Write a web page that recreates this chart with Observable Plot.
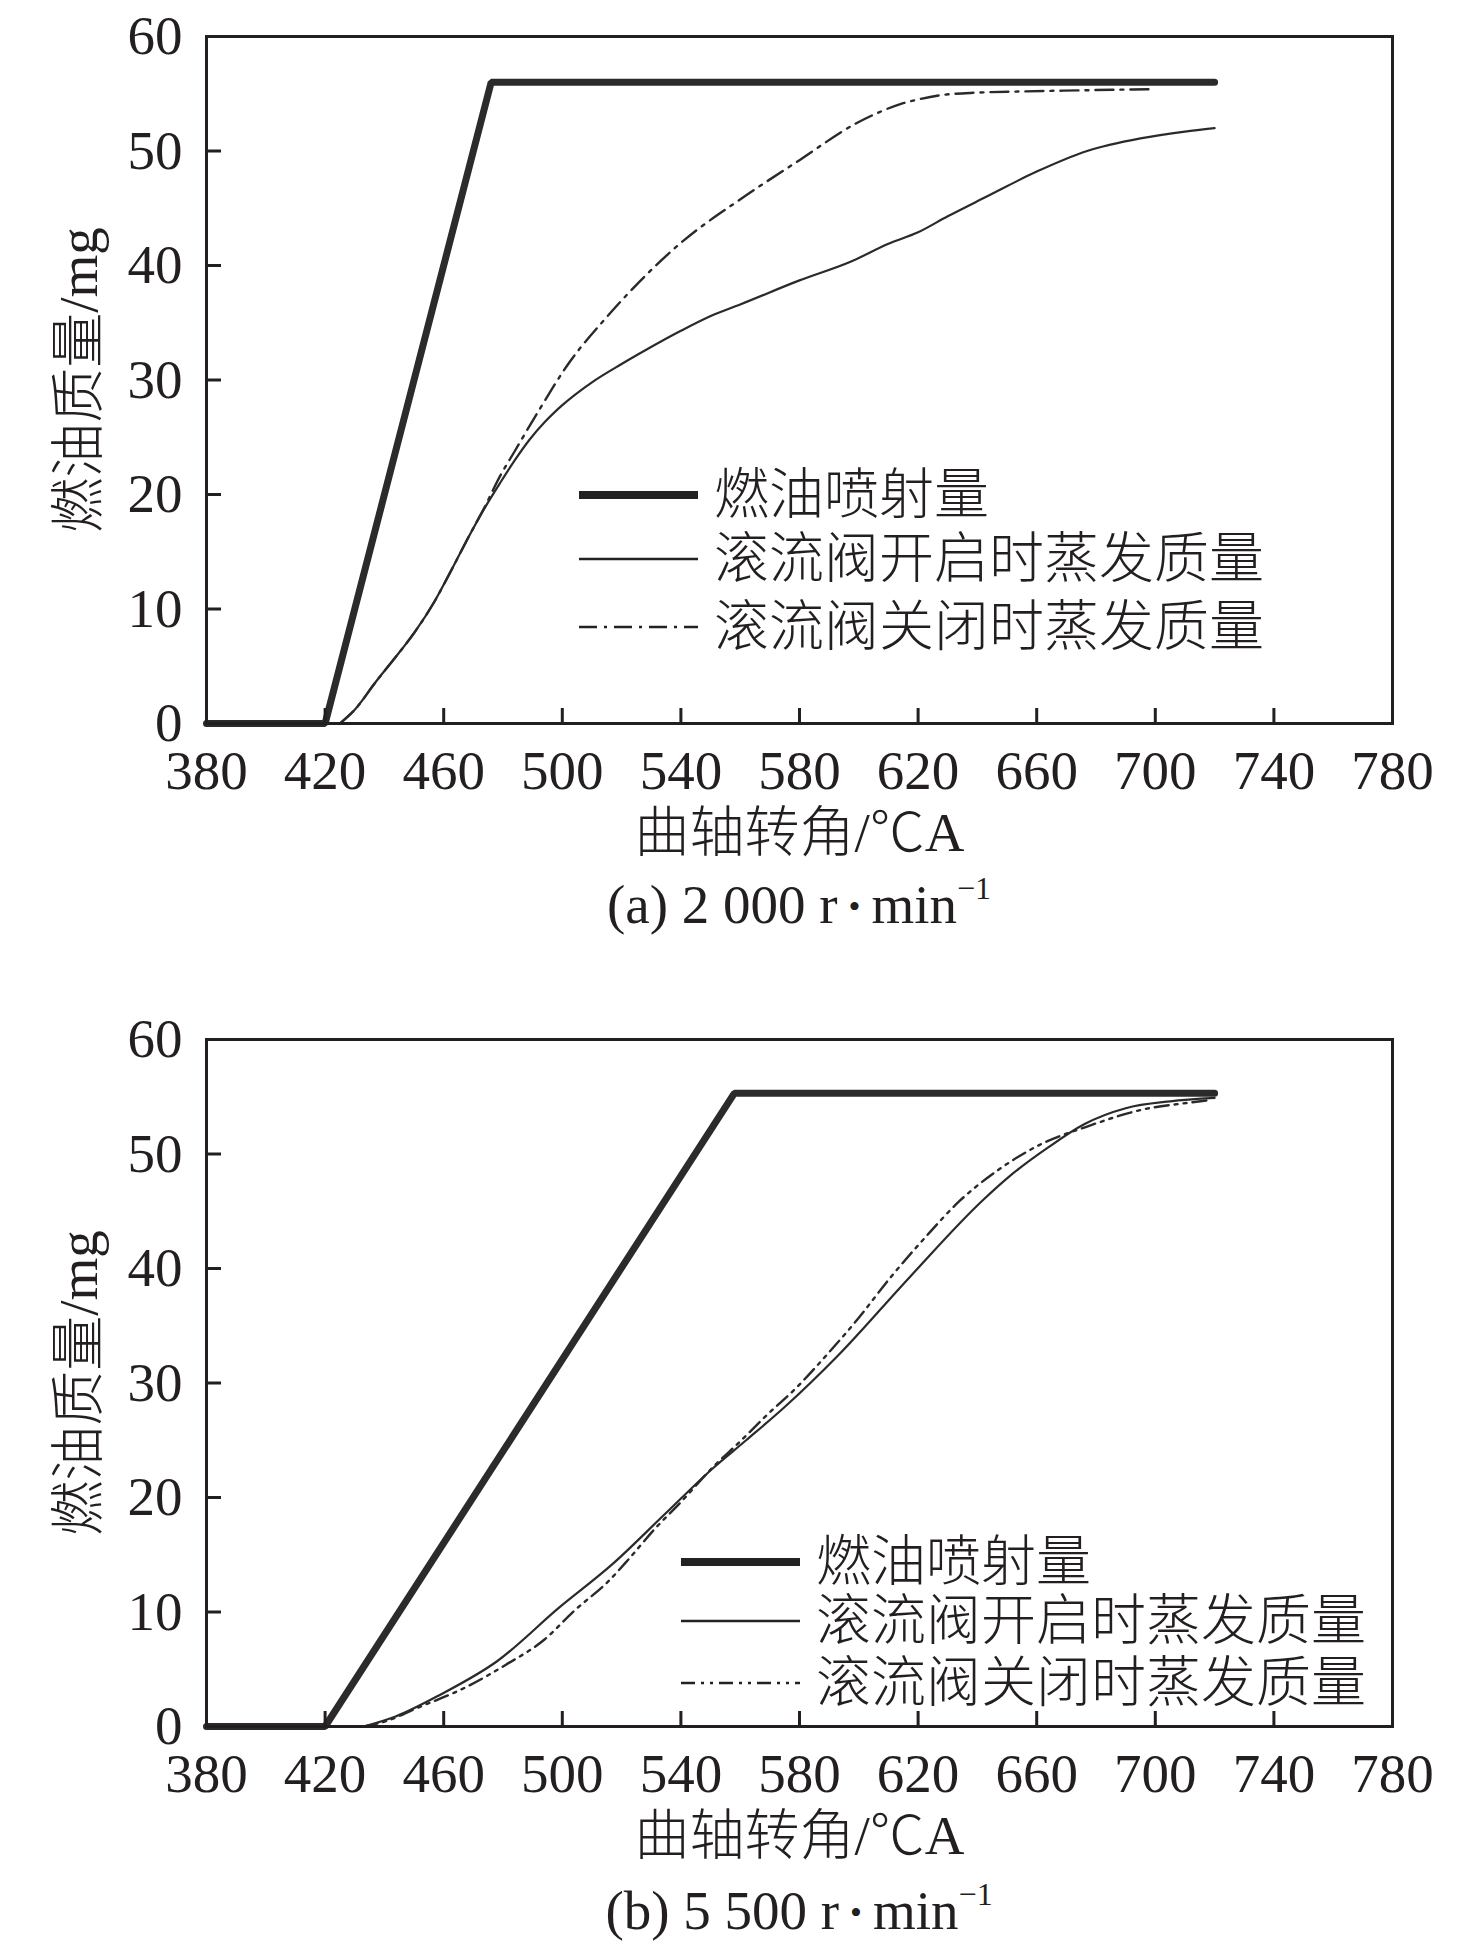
<!DOCTYPE html>
<html>
<head>
<meta charset="utf-8">
<script src="https://cdn.jsdelivr.net/npm/d3@7"></script>
<script src="https://cdn.jsdelivr.net/npm/@observablehq/plot@0.6"></script>
<style>
  body { margin: 0; background: #fff; }
  #page { position: relative; width: 1476px; height: 1948px; background: #fff; color: #231f20;
          font-family: "Liberation Serif", "Noto Sans CJK SC", serif; }
  .panel { position: absolute; left: 0; }
  .caption { position: absolute; left: 206px; width: 1186px; text-align: center; font-size: 55px; line-height: 56px; white-space: nowrap; }
  .caption sup { font-size: 32px; vertical-align: 0; position: relative; top: -24px; }
  .caption .dot { font-size: 34px; position: relative; top: -5px; }
  .lrow { position: absolute; height: 60px; display: flex; align-items: center; white-space: nowrap; }
  .lrow span { font-size: 55px; line-height: 60px; font-weight: 300; margin-left: 16px; }
  .lrow svg { display: block; }
</style>
</head>
<body>
<div id="page"></div>
<script>
// ---------- data ----------
const xTicks = [380, 420, 460, 500, 540, 580, 620, 660, 700, 740, 780];
const yTicks = [0, 10, 20, 30, 40, 50, 60];
const xLabel = "曲轴转角/℃A";
const yLabel = "燃油质量/mg";
const seriesNames = ["燃油喷射量", "滚流阀开启时蒸发质量", "滚流阀关闭时蒸发质量"];
const captionHeads = ["(a) 2 000 r", "(b) 5 500 r"];
const captionUnit = "min";

// (a) 2000 r/min
const aFuelX = [380, 420, 476, 720];
const aFuelY = [0, 0, 56, 56];
const aOpenX = [425, 430, 437, 445, 450, 457, 463, 468, 474, 479, 484, 489, 494, 500, 510, 520, 528, 540, 551, 560, 580, 597, 610, 620, 630, 643, 660, 677, 695, 710, 720];
const aOpenY = [0, 1.2, 3.6, 6.2, 7.9, 10.7, 13.6, 16.1, 18.9, 21.0, 23.0, 24.8, 26.3, 27.8, 29.8, 31.4, 32.6, 34.3, 35.7, 36.6, 38.7, 40.3, 41.9, 42.9, 44.3, 46.0, 48.2, 50.0, 51.1, 51.7, 52.0];
const aClosedX = [425, 430, 437, 445, 450, 457, 463, 468, 474, 479, 484, 492, 502, 515, 528, 541, 559, 580, 599, 607, 614, 620, 627, 640, 655, 675, 698];
const aClosedY = [0, 1.2, 3.6, 6.2, 7.9, 10.7, 13.6, 16.1, 19.0, 21.6, 23.8, 27.3, 31.4, 35.5, 39.1, 42.2, 45.6, 49.2, 52.4, 53.4, 54.1, 54.5, 54.85, 55.1, 55.2, 55.3, 55.4];

// (b) 5500 r/min
const bFuelX = [380, 420, 558, 720];
const bFuelY = [0, 0, 55.3, 55.3];
const bOpenX = [433, 444, 459, 478, 499, 517, 534, 551, 562, 575, 593, 617, 642, 652, 664, 676, 690, 705, 720];
const bOpenY = [0, 0.9, 2.8, 5.7, 10.4, 14.2, 18.4, 22.6, 25.0, 27.9, 32.4, 39.2, 46.0, 48.3, 50.6, 52.6, 54.0, 54.6, 54.9];
const bClosedX = [433, 441, 450, 468, 481, 494, 504, 516, 522, 531, 540, 551, 560, 569, 579, 589, 600, 610, 622, 634, 647, 661, 677, 696, 712, 718];
const bClosedY = [0, 0.5, 1.5, 3.5, 5.4, 7.6, 10.1, 12.8, 14.5, 17.2, 19.6, 22.7, 24.9, 27.2, 29.6, 32.4, 35.7, 39.0, 42.6, 45.9, 48.6, 50.8, 52.4, 53.9, 54.5, 54.7];

// ---------- styles ----------
const ink = "#231f20";
const fontFam = '"Liberation Serif", "Noto Sans CJK SC", serif';
const W = 1476, H = 870, ML = 206, MR = 84, FH = 687, FW = W - ML - MR, TICK = 15;

const zip = (xs, ys) => xs.map((x, i) => ({x, y: ys[i]}));

function panel(fuelX, fuelY, openX, openY, closedX, closedY, dash, marginTop) {
  return Plot.plot({
    width: W, height: H,
    marginLeft: ML, marginRight: MR, marginTop, marginBottom: H - marginTop - FH,
    x: {domain: [380, 780]},
    y: {domain: [0, 60]},
    style: {fontFamily: fontFam, fontSize: "55px", color: ink, background: "#fff", overflow: "visible"},
    marks: [
      Plot.line(zip(fuelX, fuelY), {x: "x", y: "y", stroke: "#2b2b2b", strokeWidth: 7, strokeLinejoin: "miter"}),
      Plot.line(zip(openX, openY), {x: "x", y: "y", stroke: "#2a2a2a", strokeWidth: 2.2, curve: "monotone-x"}),
      Plot.line(zip(closedX, closedY), {x: "x", y: "y", stroke: "#2a2a2a", strokeWidth: 2.4, curve: "monotone-x", strokeDasharray: dash}),
      Plot.tickX(xTicks, {x: d => d, insetTop: FH - TICK, stroke: ink, strokeWidth: 3}),
      Plot.tickY(yTicks, {y: d => d, insetRight: FW - TICK, stroke: ink, strokeWidth: 3}),
      Plot.axisX({ticks: xTicks, tickSize: 0, tickPadding: 26, label: null, tickFormat: d => String(d)}),
      Plot.axisY({ticks: yTicks, tickSize: 0, tickPadding: 24, label: null, tickFormat: d => String(d)}),
      Plot.frame({stroke: ink, strokeWidth: 3}),
      Plot.text([xLabel], {text: d => d, frameAnchor: "bottom", lineAnchor: "middle", textAnchor: "middle", dy: 110, fontSize: 55, fill: ink, fontWeight: 300}),
      Plot.text([yLabel], {text: d => d, frameAnchor: "left", lineAnchor: "middle", textAnchor: "middle", rotate: -90, dx: -127, fontSize: 55, fill: ink, fontWeight: 300})
    ]
  });
}

const page = document.getElementById("page");

function place(el, top) {
  const wrap = document.createElement("div");
  wrap.className = "panel";
  wrap.style.top = top + "px";
  wrap.appendChild(el);
  page.appendChild(wrap);
}

function caption(head, centerY) {
  const d = document.createElement("div");
  d.className = "caption";
  d.style.top = (centerY - 28) + "px";
  d.innerHTML = head + "\u2009<span class=\"dot\">•</span>\u2009" + captionUnit + "<sup>−1</sup>";
  page.appendChild(d);
}

function legend(x0, centers, dashes) {
  const widths = [8, 2.5, 2.5];
  centers.forEach((cy, i) => {
    const row = document.createElement("div");
    row.className = "lrow";
    row.style.left = x0 + "px";
    row.style.top = (cy - 30) + "px";
    const ns = "http://www.w3.org/2000/svg";
    const svg = document.createElementNS(ns, "svg");
    svg.setAttribute("width", 119); svg.setAttribute("height", 20);
    const ln = document.createElementNS(ns, "line");
    ln.setAttribute("x1", 0); ln.setAttribute("x2", 119);
    ln.setAttribute("y1", 10); ln.setAttribute("y2", 10);
    ln.setAttribute("stroke", "#222");
    ln.setAttribute("stroke-width", widths[i]);
    if (dashes[i]) ln.setAttribute("stroke-dasharray", dashes[i]);
    svg.appendChild(ln);
    row.appendChild(svg);
    const sp = document.createElement("span");
    sp.textContent = seriesNames[i];
    row.appendChild(sp);
    page.appendChild(row);
  });
}

const dashA = "18,7,3,7";
const dashB = "14,6,3,6,3,6";

place(panel(aFuelX, aFuelY, aOpenX, aOpenY, aClosedX, aClosedY, dashA, 36), 0);
caption(captionHeads[0], 905);
legend(579, [495, 559, 627], [null, null, dashA]);

place(panel(bFuelX, bFuelY, bOpenX, bOpenY, bClosedX, bClosedY, dashB, 39), 1000);
caption(captionHeads[1], 1911);
legend(681, [1562, 1621, 1683], [null, null, dashB]);
</script>
</body>
</html>
